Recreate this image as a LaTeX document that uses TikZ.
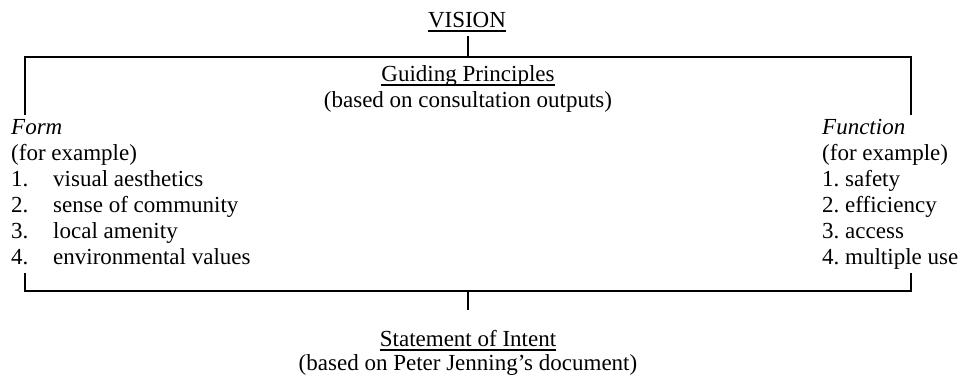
\documentclass[tikz,border=0pt]{standalone}
\usepackage{fontspec}
\setmainfont{Liberation Serif}
\begin{document}
\begin{tikzpicture}[x=1pt,y=-1pt,
  txt/.style={inner sep=0pt, font=\fontsize{23}{26}\selectfont},
  ln/.style={line width=1.3pt},
  ul/.style={line width=1.2pt}]
\useasboundingbox (0,0) rectangle (966,376);
% top title
\node[txt, anchor=base] (vision) at (467,27) {VISION};
\draw[ul] ([yshift=-4pt]vision.base west) -- ([yshift=-4pt]vision.base east);
% top bracket
\coordinate (vt) at (468,36);
\coordinate (tm) at (468,57);
\coordinate (tl) at (25,57);
\coordinate (tr) at (911,57);
\coordinate (tle) at (25,115);
\coordinate (tre) at (911,115);
\draw[ln] (vt) -- (tm);
\draw[ln] (tle) -- (tl) -- (tr) -- (tre);
\node[txt, anchor=base] (gp) at (468,81) {Guiding Principles};
\draw[ul] ([yshift=-4pt]gp.base west) -- ([yshift=-4pt]gp.base east);
\node[txt, anchor=base] (gpb) at (468,107) {(based on consultation outputs)};
% left column
\node[txt, anchor=base west] (form) at (11,134) {\textit{Form}};
\node[txt, anchor=base west] (lfe) at (11,160) {(for example)};
\node[txt, anchor=base west] (ln1) at (11,186) {1.};
\node[txt, anchor=base west] (lt1) at (53,186) {visual aesthetics};
\node[txt, anchor=base west] (ln2) at (11,212) {2.};
\node[txt, anchor=base west] (lt2) at (53,212) {sense of community};
\node[txt, anchor=base west] (ln3) at (11,238) {3.};
\node[txt, anchor=base west] (lt3) at (53,238) {local amenity};
\node[txt, anchor=base west] (ln4) at (11,264) {4.};
\node[txt, anchor=base west] (lt4) at (53,264) {environmental values};
% right column
\node[txt, anchor=base west] (func) at (822,134) {\textit{Function}};
\node[txt, anchor=base west] (rfe) at (822,160) {(for example)};
\node[txt, anchor=base west] (r1) at (822,186) {1.\ safety};
\node[txt, anchor=base west] (r2) at (822,212) {2.\ efficiency};
\node[txt, anchor=base west] (r3) at (822,238) {3.\ access};
\node[txt, anchor=base west] (r4) at (822,264) {4.\ multiple use};
% bottom bracket
\coordinate (bls) at (25,273);
\coordinate (bl) at (25,291);
\coordinate (br) at (911,291);
\coordinate (brs) at (911,273);
\coordinate (bm) at (468,291);
\coordinate (bt) at (468,310);
\draw[ln] (bls) -- (bl) -- (br) -- (brs);
\draw[ln] (bm) -- (bt);
\node[txt, anchor=base] (soi) at (468,346) {Statement of Intent};
\draw[ul] ([yshift=-4pt]soi.base west) -- ([yshift=-4pt]soi.base east);
\node[txt, anchor=base] (soib) at (468,370) {(based on Peter Jenning’s document)};
\end{tikzpicture}
\end{document}
